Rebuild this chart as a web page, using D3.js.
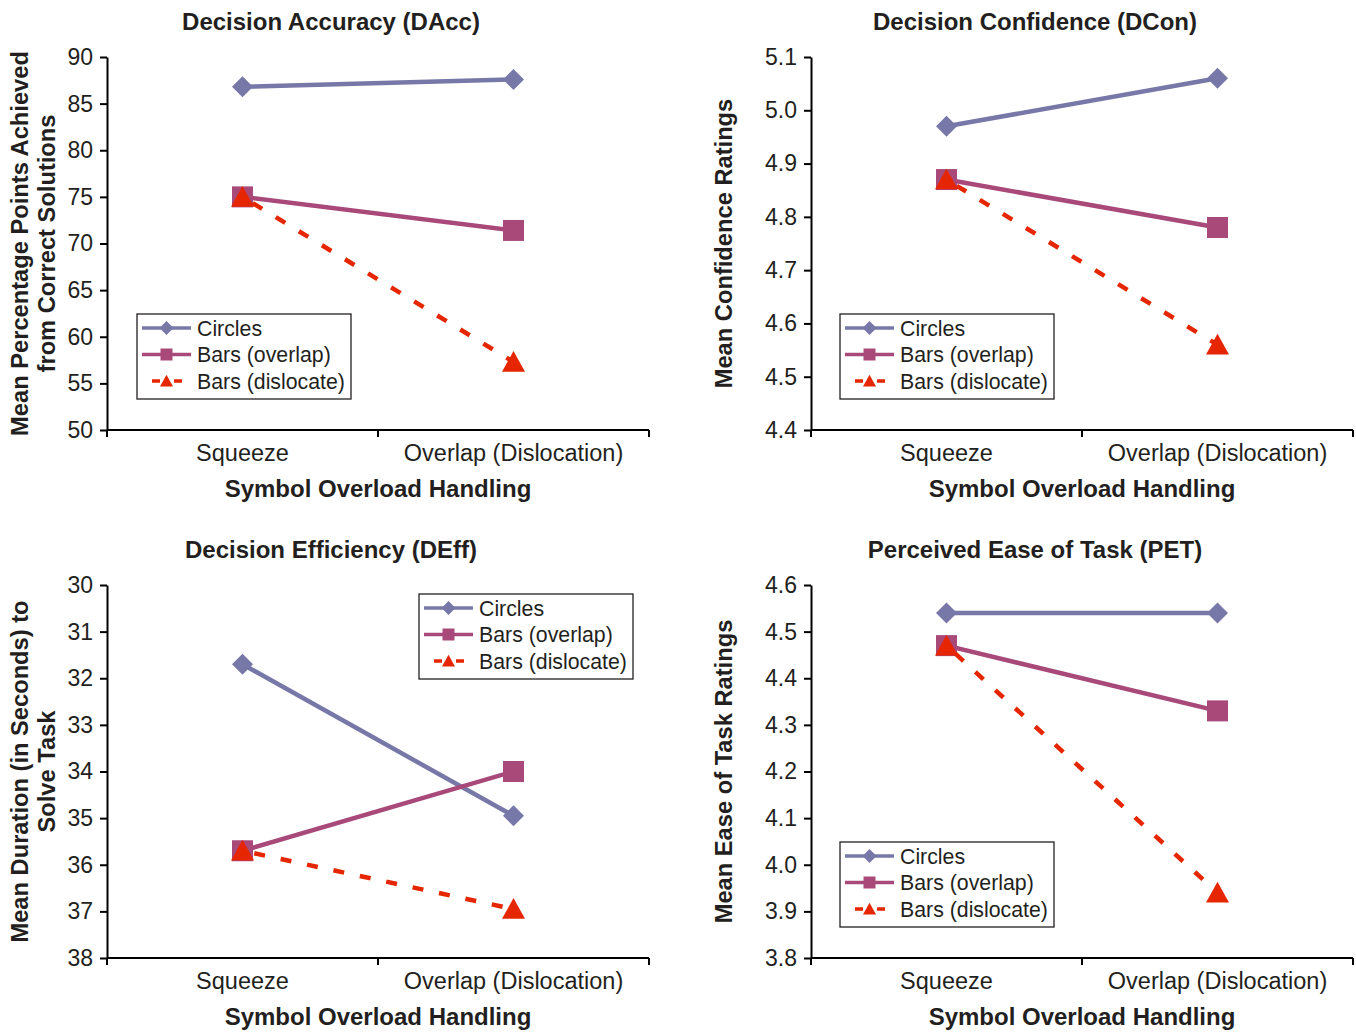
<!DOCTYPE html>
<html>
<head>
<meta charset="utf-8">
<script src="https://cdn.jsdelivr.net/npm/d3@7"></script>
<style>
  body { margin: 0; background: #fff; }
  text { font-family: "Liberation Sans", Arial, Helvetica, sans-serif; fill: #231f20; }
</style>
</head>
<body>
<div id="chart-area"></div>
<script>
// data
var categories = ["Squeeze", "Overlap (Dislocation)"];
var seriesNames = ["Circles", "Bars (overlap)", "Bars (dislocate)"];

var daccCircles = [86.8, 87.6];
var daccOverlap = [75.0, 71.4];
var daccDislocate = [75.0, 57.3];
var daccTicks = [50, 55, 60, 65, 70, 75, 80, 85, 90];

var dconCircles = [4.97, 5.06];
var dconOverlap = [4.87, 4.78];
var dconDislocate = [4.87, 4.56];
var dconTicks = [4.4, 4.5, 4.6, 4.7, 4.8, 4.9, 5.0, 5.1];

var deffCircles = [31.7, 34.95];
var deffOverlap = [35.7, 34.0];
var deffDislocate = [35.7, 36.95];
var deffTicks = [30, 31, 32, 33, 34, 35, 36, 37, 38];

var petCircles = [4.54, 4.54];
var petOverlap = [4.47, 4.33];
var petDislocate = [4.47, 3.94];
var petTicks = [3.8, 3.9, 4.0, 4.1, 4.2, 4.3, 4.4, 4.5, 4.6];

var colors = ["#7778a8", "#a8497a", "#e62600"];

var svg = d3.select("#chart-area").append("svg")
    .attr("width", 1356)
    .attr("height", 1032);

var W = 542, H = 373;

// marker shapes
function marker(g, kind, x, y, s, color) {
    var p, r = s / 2;
    if (kind == 0) {
        p = "M" + x + "," + (y - r) + "L" + (x + r) + "," + y + "L" + x + "," + (y + r) + "L" + (x - r) + "," + y + "Z";
    } else if (kind == 1) {
        p = "M" + (x - r) + "," + (y - r) + "h" + s + "v" + s + "h" + (-s) + "Z";
    } else {
        p = "M" + x + "," + (y - r * 0.95) + "L" + (x + r) + "," + (y + r * 0.85) + "L" + (x - r) + "," + (y + r * 0.85) + "Z";
    }
    g.append("path").attr("d", p).attr("fill", color);
}

function drawPanel(opt) {
    var g = svg.append("g").attr("transform", "translate(" + opt.ox + "," + opt.oy + ")");

    var x = d3.scaleBand().domain(categories).range([0, W]);
    var y = d3.scaleLinear()
        .domain([opt.ticks[0], opt.ticks[opt.ticks.length - 1]])
        .range(opt.reverse ? [0, H] : [H, 0]);

    // y axis
    var yAxis = d3.axisLeft(y)
        .tickValues(opt.ticks)
        .tickFormat(opt.fmt)
        .tickSize(7)
        .tickSizeOuter(0)
        .tickPadding(7);
    var ya = g.append("g").call(yAxis);
    ya.select(".domain").attr("stroke", "#000").attr("stroke-width", 2);
    ya.selectAll(".tick line").attr("stroke", "#000").attr("stroke-width", 2);
    ya.selectAll(".tick text").style("font-size", "23px").attr("fill", "#231f20");

    // x axis
    var xa = g.append("g").attr("transform", "translate(0," + H + ")");
    xa.append("line").attr("x1", 0).attr("x2", W).attr("stroke", "#000").attr("stroke-width", 2);
    var edges = [0, x(categories[1]), W];
    edges.forEach(function(e) {
        xa.append("line").attr("x1", e).attr("x2", e).attr("y1", 0).attr("y2", 7)
            .attr("stroke", "#000").attr("stroke-width", 2);
    });
    categories.forEach(function(c) {
        xa.append("text")
            .attr("x", x(c) + x.bandwidth() / 2)
            .attr("y", 31)
            .attr("text-anchor", "middle")
            .style("font-size", "23.5px")
            .text(c);
    });
    xa.append("text")
        .attr("x", W / 2)
        .attr("y", 67)
        .attr("text-anchor", "middle")
        .style("font-size", "24px")
        .style("font-weight", "bold")
        .text("Symbol Overload Handling");

    // title
    g.append("text")
        .attr("x", 224)
        .attr("y", -27)
        .attr("text-anchor", "middle")
        .style("font-size", "24px")
        .style("font-weight", "bold")
        .text(opt.title);

    // y title
    var yt = g.append("text")
        .attr("transform", "translate(-79," + (H / 2) + ") rotate(-90)")
        .attr("text-anchor", "middle")
        .style("font-size", "23.7px")
        .style("font-weight", "bold");
    opt.yTitle.forEach(function(t, i) {
        yt.append("tspan").attr("x", 0).attr("dy", i == 0 ? 0 : 27).text(t);
    });

    // series
    var line = d3.line()
        .x(function(d, i) { return x(categories[i]) + x.bandwidth() / 2; })
        .y(function(d) { return y(d); });

    opt.series.forEach(function(vals, k) {
        g.append("path")
            .datum(vals)
            .attr("d", line)
            .attr("fill", "none")
            .attr("stroke", colors[k])
            .attr("stroke-width", 4.5)
            .attr("stroke-dasharray", k == 2 ? "11,16" : null)
            .attr("stroke-dashoffset", k == 2 ? -12 : 0);
        vals.forEach(function(v, i) {
            var sz = k == 2 ? 23 : 21;
            marker(g, k, x(categories[i]) + x.bandwidth() / 2, y(v), sz, colors[k]);
        });
    });

    // legend
    var lg = g.append("g").attr("transform", "translate(" + opt.legend[0] + "," + opt.legend[1] + ")");
    lg.append("rect").attr("width", 214).attr("height", 85)
        .attr("fill", "#fff").attr("stroke", "#231f20").attr("stroke-width", 1.3);
    seriesNames.forEach(function(n, k) {
        var ry = 14 + k * 26.5;
        if (k == 2) {
            lg.append("line").attr("x1", 15).attr("x2", 45).attr("y1", ry).attr("y2", ry)
                .attr("stroke", colors[k]).attr("stroke-width", 3.5).attr("stroke-dasharray", "8,14");
        } else {
            lg.append("line").attr("x1", 5).attr("x2", 54).attr("y1", ry).attr("y2", ry)
                .attr("stroke", colors[k]).attr("stroke-width", 3.5);
        }
        marker(lg, k, 29.5, ry, k == 0 ? 14 : (k == 1 ? 12 : 13), colors[k]);
        lg.append("text").attr("x", 60).attr("y", ry + 7.5)
            .style("font-size", "21.3px").text(n);
    });
}

var fmt0 = d3.format("d");
var fmt1 = d3.format(".1f");

drawPanel({ ox: 107, oy: 57, title: "Decision Accuracy (DAcc)",
    yTitle: ["Mean Percentage Points Achieved", "from Correct Solutions"],
    ticks: daccTicks, fmt: fmt0, reverse: false,
    series: [daccCircles, daccOverlap, daccDislocate], legend: [30, 257] });

drawPanel({ ox: 811, oy: 57, title: "Decision Confidence (DCon)",
    yTitle: ["Mean Confidence Ratings"],
    ticks: dconTicks, fmt: fmt1, reverse: false,
    series: [dconCircles, dconOverlap, dconDislocate], legend: [29, 257] });

drawPanel({ ox: 107, oy: 585, title: "Decision Efficiency (DEff)",
    yTitle: ["Mean Duration (in Seconds) to", "Solve Task"],
    ticks: deffTicks, fmt: fmt0, reverse: true,
    series: [deffCircles, deffOverlap, deffDislocate], legend: [312, 9] });

drawPanel({ ox: 811, oy: 585, title: "Perceived Ease of Task (PET)",
    yTitle: ["Mean Ease of Task Ratings"],
    ticks: petTicks, fmt: fmt1, reverse: false,
    series: [petCircles, petOverlap, petDislocate], legend: [29, 257] });
</script>
</body>
</html>
